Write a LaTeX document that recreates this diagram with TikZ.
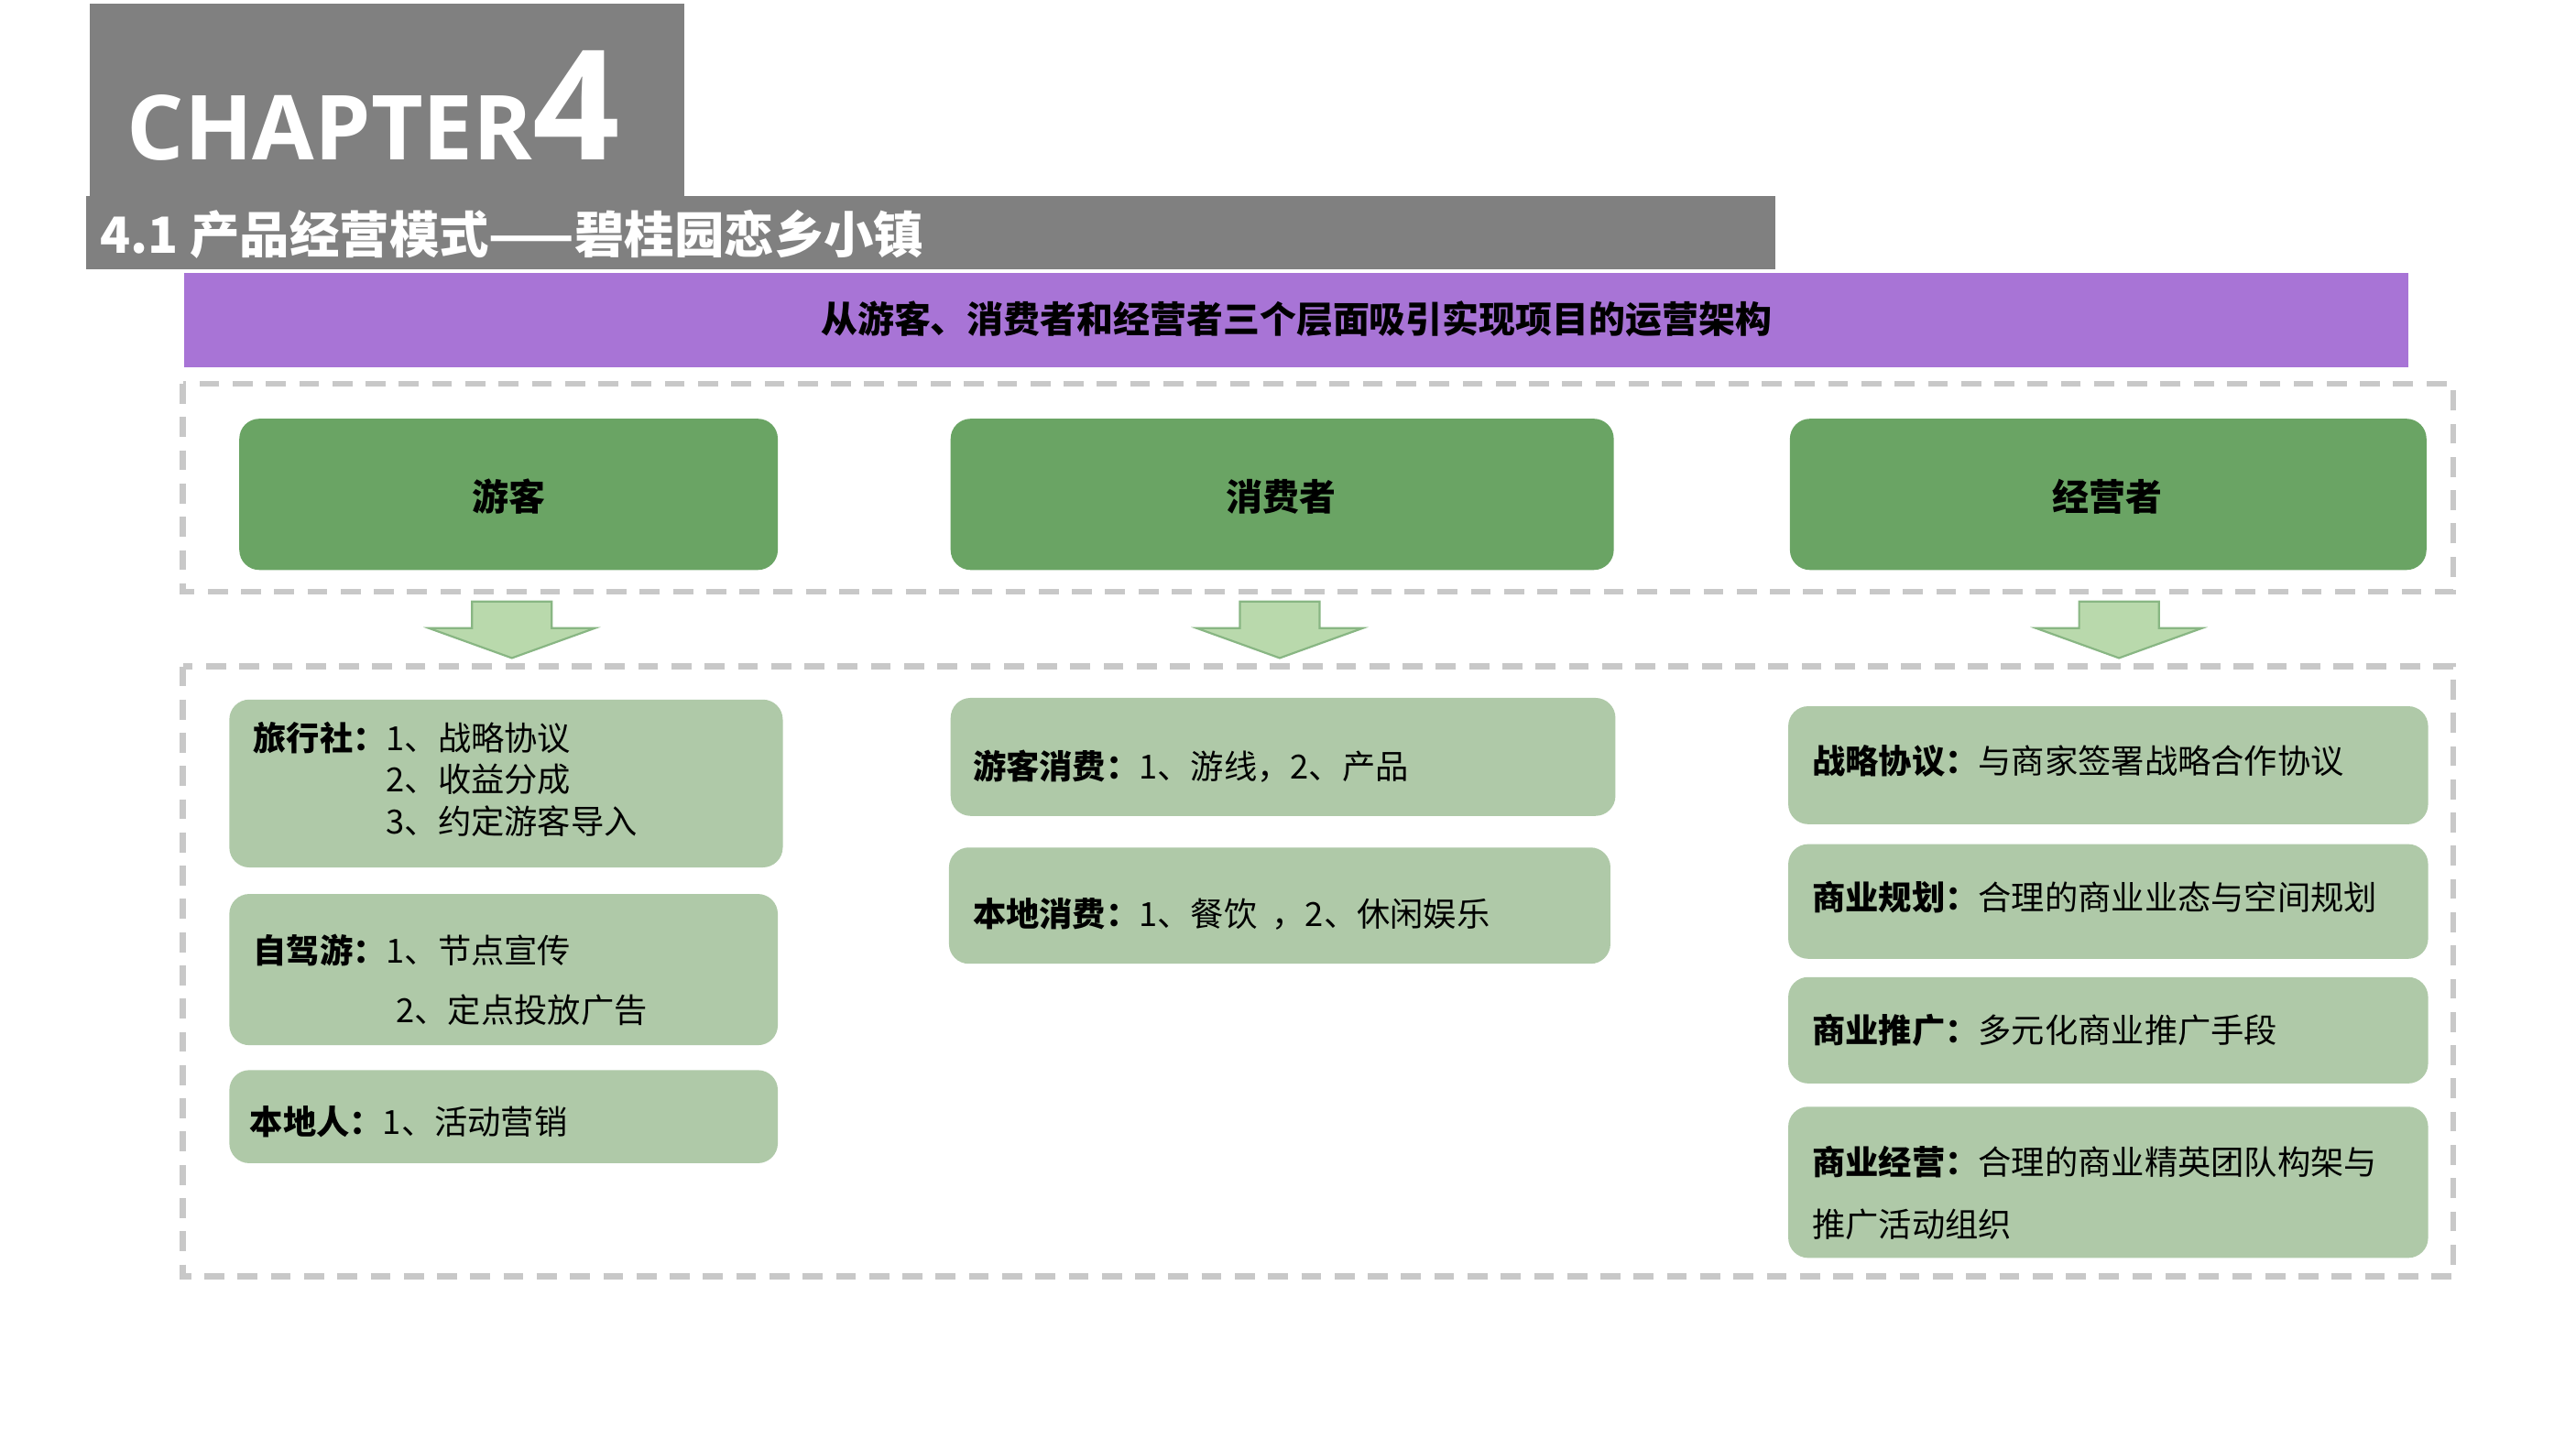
\documentclass[tikz,border=0pt]{standalone}
\usepackage{fontspec}
\setmainfont{Noto Sans CJK SC}
\newfontfamily\chapfont{Open Sans}
\definecolor{gbar}{HTML}{808080}
\definecolor{purp}{HTML}{A874D6}
\definecolor{dgreen}{HTML}{6AA464}
\definecolor{lgreen}{HTML}{AFC9A8}
\definecolor{agreen}{HTML}{B9D9AC}
\definecolor{dash}{HTML}{C8C8C8}
\tikzset{
 hdr/.style={fill=dgreen,draw=none,rounded corners=6pt},
 itm/.style={fill=lgreen,draw=none,rounded corners=6pt},
 dbox/.style={draw=dash,line width=1.8pt,dash pattern=on 6pt off 4pt},
 txt/.style={anchor=west,font=\fontsize{10}{12}\selectfont,inner sep=0pt},
 arr/.style={fill=agreen,draw=dgreen!80,line width=0.6pt}
}
\begin{document}
\begin{tikzpicture}[x=0.5pt,y=-0.5pt]
\useasboundingbox[fill=white] (0,0) rectangle (1550,872);
\fill[gbar] (54,2) rectangle (412,120);
\node[anchor=base west,text=white,inner sep=0pt] (chap) at (76,96) {\chapfont\bfseries\fontsize{27}{30}\selectfont CHAPTER\fontsize{46}{50}\selectfont 4};
\fill[gbar] (52,118) rectangle (1068,162);
\node[anchor=west,text=white,inner sep=0pt,font=\bfseries\fontsize{15}{18}\selectfont] (t41) at (60,141) {4.1 产品经营模式——碧桂园恋乡小镇};
\fill[purp] (111,164) rectangle (1449,221);
\node[font=\bfseries\fontsize{11}{13}\selectfont] (sub) at (780,192) {从游客、消费者和经营者三个层面吸引实现项目的运营架构};
\draw[dbox] (110,231) rectangle (1476,356);
\draw[dbox] (110,401) rectangle (1476,768);
\foreach \x/\a/\b/\t [count=\i] in {306/144/468/游客,771/572/971/消费者,1268/1077/1460/经营者}{
 \fill[hdr] (\a,252) rectangle (\b,343);
 \node[font=\bfseries\fontsize{11}{13}\selectfont] (h\i) at (\x,299) {\t};
}
\foreach \x [count=\i] in {308,770,1275}{
 \draw[arr] (\x-24,362) -- (\x+24,362) -- (\x+24,378) -- (\x+50,378) -- (\x,396) -- (\x-50,378) -- (\x-24,378) -- cycle;
}
% left
\fill[itm] (138,421) rectangle (471,522);
\fill[itm] (138,538) rectangle (468,629);
\fill[itm] (138,644) rectangle (468,700);
\node[txt] (l1) at (152,444) {\textbf{旅行社：}1、战略协议};
\node[txt] (l2) at (232,469) {2、收益分成};
\node[txt] (l3) at (232,494) {3、约定游客导入};
\node[txt] (l4) at (152,572) {\textbf{自驾游：}1、节点宣传};
\node[txt] (l5) at (238,608) {2、定点投放广告};
\node[txt] (l6) at (150,675) {\textbf{本地人：}1、活动营销};
% middle
\fill[itm] (572,420) rectangle (972,491);
\fill[itm] (571,510) rectangle (969,580);
\node[txt] (m1) at (585,461) {\textbf{游客消费：}1、游线，2、产品};
\node[txt] (m2) at (585,550) {\textbf{本地消费：}1、餐饮\ \ ，2、休闲娱乐};
% right
\fill[itm] (1076,425) rectangle (1461,496);
\fill[itm] (1076,508) rectangle (1461,577);
\fill[itm] (1076,588) rectangle (1461,652);
\fill[itm] (1076,666) rectangle (1461,757);
\node[txt] (r1) at (1090,458) {\textbf{战略协议：}与商家签署战略合作协议};
\node[txt] (r2) at (1090,540) {\textbf{商业规划：}合理的商业业态与空间规划};
\node[txt] (r3) at (1090,620) {\textbf{商业推广：}多元化商业推广手段};
\node[txt] (r4) at (1090,699) {\textbf{商业经营：}合理的商业精英团队构架与};
\node[txt] (r5) at (1090,737) {推广活动组织};
\end{tikzpicture}
\end{document}
